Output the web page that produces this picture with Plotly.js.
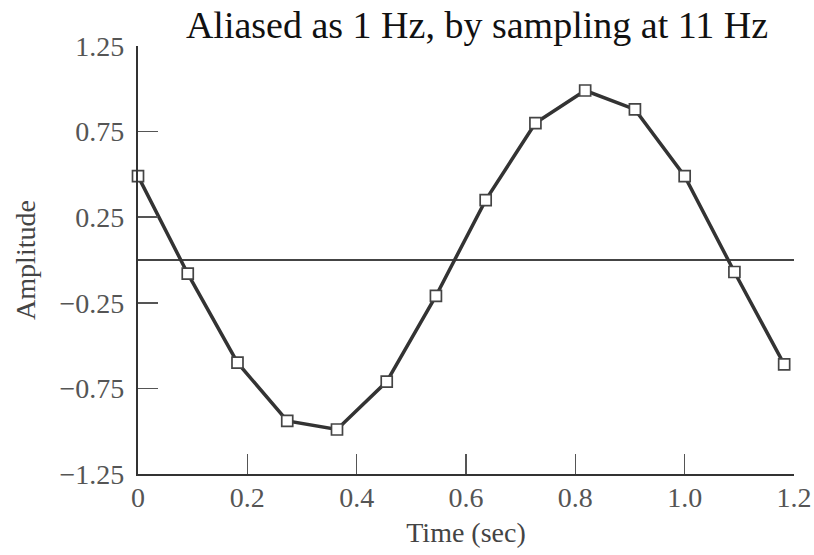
<!DOCTYPE html>
<html>
<head>
<meta charset="utf-8">
<script src="https://cdn.plot.ly/plotly-3.0.1.min.js"></script>
<style>html,body{margin:0;padding:0;background:#fff;}#chart{width:814px;height:555px;}</style>
</head>
<body>
<div id="chart"></div>
<script>
// Sample times (sec) and amplitudes
const timeSec = [0, 0.091, 0.182, 0.273, 0.364, 0.455, 0.545, 0.636, 0.727, 0.818, 0.909, 1.0, 1.091, 1.182];
const amplitude = [0.49, -0.08, -0.60, -0.94, -0.99, -0.71, -0.21, 0.35, 0.80, 0.99, 0.88, 0.49, -0.07, -0.61];
const xTickVals = [0, 0.2, 0.4, 0.6, 0.8, 1.0, 1.2];
const xTickText = ["0", "0.2", "0.4", "0.6", "0.8", "1.0", "1.2"];
const yTickVals = [1.25, 0.75, 0.25, -0.25, -0.75, -1.25];
const yTickText = ["1.25", "0.75", "0.25", "\u22120.25", "\u22120.75", "\u22121.25"];

const serif = "'Liberation Serif', 'Times New Roman', serif";

const trace = {
  x: timeSec,
  y: amplitude,
  type: "scatter",
  mode: "lines+markers",
  line: {color: "#333333", width: 3.5},
  marker: {symbol: "square", size: 11, color: "#ffffff", line: {color: "#444444", width: 1.7}},
  cliponaxis: false,
  hoverinfo: "skip"
};

const layout = {
  width: 814,
  height: 555,
  margin: {l: 138, r: 20, t: 46, b: 81},
  paper_bgcolor: "#ffffff",
  plot_bgcolor: "#ffffff",
  showlegend: false,
  title: {
    text: "Aliased as 1 Hz, by sampling at 11 Hz",
    font: {family: serif, size: 38, color: "#111111"},
    x: 477 / 814, xanchor: "center", xref: "container",
    y: 1 - 25 / 555, yanchor: "middle", yref: "container"
  },
  xaxis: {
    range: [0, 1.2],
    tickvals: xTickVals,
    ticktext: xTickText,
    ticks: "inside",
    ticklen: 20,
    tickwidth: 1.5,
    tickcolor: "#555555",
    showline: true,
    linecolor: "#333333",
    linewidth: 2.2,
    mirror: false,
    showgrid: false,
    zeroline: false,
    tickfont: {family: serif, size: 28, color: "#555555"},
    ticklabelstandoff: -3,
    title: {text: "Time (sec)", font: {family: serif, size: 28, color: "#444444"}, standoff: 11},
    automargin: false
  },
  yaxis: {
    range: [-1.25, 1.25],
    tickvals: yTickVals,
    ticktext: yTickText,
    ticks: "inside",
    ticklen: 20,
    tickwidth: 1.5,
    tickcolor: "#555555",
    showline: true,
    linecolor: "#333333",
    linewidth: 2.2,
    mirror: false,
    showgrid: false,
    zeroline: true,
    zerolinecolor: "#444444",
    zerolinewidth: 1.4,
    tickfont: {family: serif, size: 28, color: "#555555"},
    ticklabelstandoff: 6,
    title: {text: "Amplitude", font: {family: serif, size: 28, color: "#444444"}, standoff: 16},
    automargin: false
  }
};

Plotly.newPlot("chart", [trace], layout, {staticPlot: true, displayModeBar: false});
</script>
</body>
</html>
